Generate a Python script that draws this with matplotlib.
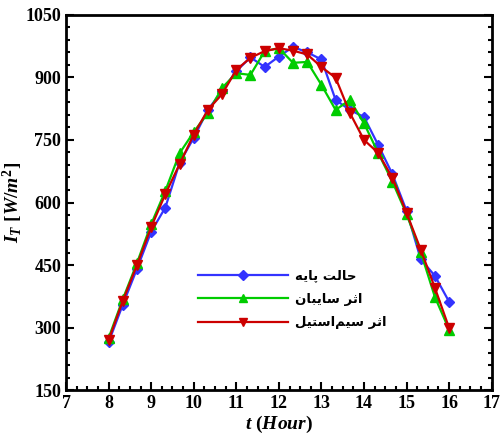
import matplotlib
matplotlib.use("Agg")
import matplotlib.pyplot as plt
from matplotlib.ticker import MultipleLocator

# hours of day (every 20 minutes)
hours = [8.0, 8.333, 8.667, 9.0, 9.333, 9.667, 10.0, 10.333, 10.667, 11.0,
         11.333, 11.667, 12.0, 12.333, 12.667, 13.0, 13.333, 13.667, 14.0,
         14.333, 14.667, 15.0, 15.333, 15.667, 16.0]

base_case = [265, 355, 441, 530, 588, 695, 755, 822, 868, 915, 948, 925, 950,
             973, 960, 943, 846, 822, 805, 738, 668, 580, 464, 424, 362]
canopy_case = [275, 368, 455, 548, 628, 718, 769, 815, 875, 910, 906, 963, 970,
               935, 937, 882, 822, 846, 790, 719, 650, 572, 481, 373, 295]
wire_case = [270, 364, 450, 541, 620, 692, 763, 822, 860, 918, 947, 963, 970,
             964, 955, 925, 899, 815, 750, 719, 659, 575, 487, 395, 299]

labels = ["حالت پایه", "اثر سایبان", "اثر سیم\u200cاستیل"]

# arabic presentation forms: isolated, final, initial, medial
FORMS = {
    "ا": ("\uFE8D", "\uFE8E", None, None),
    "ب": ("\uFE8F", "\uFE90", "\uFE91", "\uFE92"),
    "پ": ("\uFB56", "\uFB57", "\uFB58", "\uFB59"),
    "ت": ("\uFE95", "\uFE96", "\uFE97", "\uFE98"),
    "ث": ("\uFE99", "\uFE9A", "\uFE9B", "\uFE9C"),
    "ح": ("\uFEA1", "\uFEA2", "\uFEA3", "\uFEA4"),
    "ر": ("\uFEAD", "\uFEAE", None, None),
    "س": ("\uFEB1", "\uFEB2", "\uFEB3", "\uFEB4"),
    "ل": ("\uFEDD", "\uFEDE", "\uFEDF", "\uFEE0"),
    "م": ("\uFEE1", "\uFEE2", "\uFEE3", "\uFEE4"),
    "ن": ("\uFEE5", "\uFEE6", "\uFEE7", "\uFEE8"),
    "ه": ("\uFEE9", "\uFEEA", "\uFEEB", "\uFEEC"),
    "ی": ("\uFBFC", "\uFBFD", "\uFBFE", "\uFBFF"),
}


def shape(text):
    # minimal persian shaping + reversal, matplotlib does no bidi
    out = []
    for i, ch in enumerate(text):
        if ch not in FORMS:
            if ch != "\u200c":
                out.append(ch)
            continue
        prev = text[i - 1] if i > 0 else ""
        nxt = text[i + 1] if i + 1 < len(text) else ""
        join_prev = prev in FORMS and FORMS[prev][2] is not None
        join_next = FORMS[ch][2] is not None and nxt in FORMS
        iso, fin, ini, med = FORMS[ch]
        if join_prev and join_next:
            out.append(med)
        elif join_prev:
            out.append(fin)
        elif join_next:
            out.append(ini)
        else:
            out.append(iso)
    return "".join(reversed(out))


plt.rcParams["mathtext.fontset"] = "custom"
plt.rcParams["mathtext.it"] = "Liberation Serif:bold:italic"
plt.rcParams["mathtext.rm"] = "Liberation Serif:bold"

fig = plt.figure(figsize=(5.02, 4.36), dpi=100)
ax = fig.add_axes([0.1315, 0.105, 0.848, 0.861])

ax.plot(hours, base_case, color="#3333ff", lw=1.6, marker="D", ms=5.5,
        label=shape(labels[0]))
ax.plot(hours, canopy_case, color="#00cc00", lw=1.6, marker="^", ms=6.5,
        label=shape(labels[1]))
ax.plot(hours, wire_case, color="#cc0000", lw=1.6, marker="v", ms=6.5,
        label=shape(labels[2]))

ax.set_xlim(7, 17)
ax.set_ylim(150, 1050)
ax.xaxis.set_major_locator(MultipleLocator(1))
ax.xaxis.set_minor_locator(MultipleLocator(0.25))
ax.yaxis.set_major_locator(MultipleLocator(150))
ax.yaxis.set_minor_locator(MultipleLocator(30))
ax.tick_params(which="both", direction="in", top=False, right=True, width=1.5)
ax.tick_params(which="major", length=6)
ax.tick_params(which="minor", length=3)
for lab in ax.get_xticklabels() + ax.get_yticklabels():
    lab.set_fontfamily("Liberation Serif")
    lab.set_fontweight("bold")
    lab.set_fontsize(13)
for sp in ax.spines.values():
    sp.set_linewidth(2)

ax.set_xlabel(r"$t\ (Hour)$", fontsize=14, labelpad=1)
ax.set_ylabel(r"$I_T\ [W/m^2]$", fontsize=14, labelpad=0)

leg = ax.legend(loc="upper left", bbox_to_anchor=(0.295, 0.34), frameon=False,
                handlelength=6.8, numpoints=1, labelspacing=0.8, borderpad=0,
                handletextpad=0.5, markerscale=0.85,
                prop={"family": "DejaVu Sans", "weight": "bold", "size": 9.5})

fig.savefig("out.png", dpi=100)
